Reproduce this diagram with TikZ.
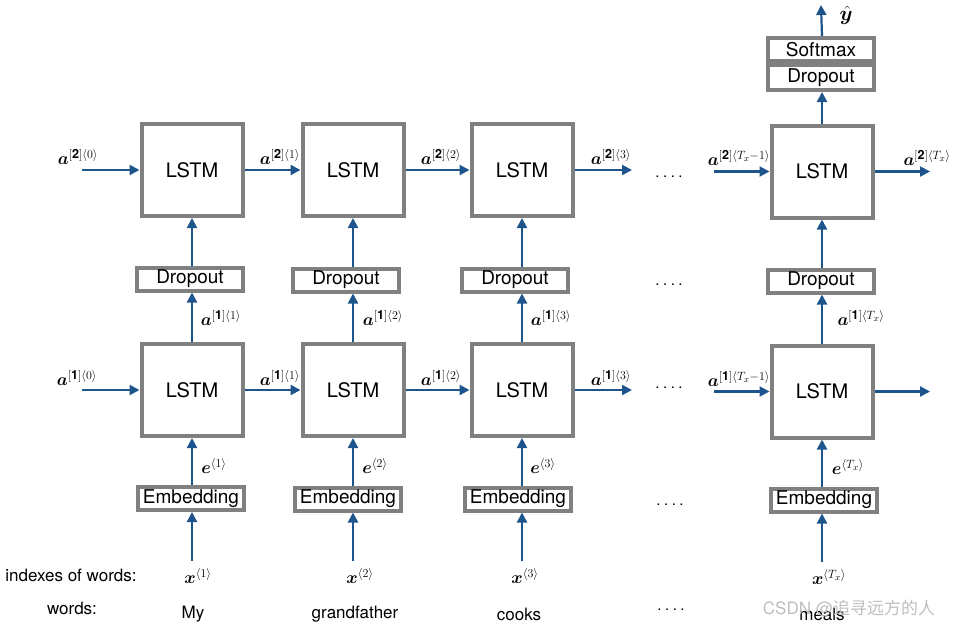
\documentclass[tikz,border=0pt]{standalone}
\usepackage{fontspec}
\setmainfont{TeX Gyre Heros}
\newfontfamily\cjkfont{Noto Sans CJK SC}
\usepackage{amsmath,bm}
\usetikzlibrary{arrows.meta}
\definecolor{boxgray}{RGB}{128,128,128}
\definecolor{arrblue}{RGB}{30,84,140}
\definecolor{wmgray}{RGB}{190,190,190}
\newcommand{\mydots}{.\hspace{3.5pt}.\hspace{3.5pt}.\hspace{3.5pt}.}
\begin{document}
\begin{tikzpicture}[x=1pt,y=-1pt,
  lstm/.style={draw=boxgray, line width=4pt, minimum width=101pt, minimum height=92pt, inner sep=0pt, font=\fontsize{20}{24}\selectfont},
  layerbox/.style={draw=boxgray, line width=4pt, minimum width=106pt, minimum height=23pt, inner sep=0pt, font=\fontsize{19}{22}\selectfont},
  arr/.style={draw=arrblue, line width=2.2pt, -{Triangle[length=10pt,width=10pt]}},
  mlab/.style={font=\fontsize{18}{20}\selectfont, inner sep=0pt},
  txt/.style={font=\fontsize{17}{20}\selectfont, inner sep=0pt},
  dots/.style={font=\fontsize{15}{18}\selectfont, inner sep=0pt},
]
\useasboundingbox (0,0) rectangle (960,630);

% LSTM layer 2
\node[lstm] (L21) at (192,170) {LSTM};
\node[lstm] (L22) at (353,170) {LSTM};
\node[lstm] (L23) at (522,170) {LSTM};
\node[lstm] (L24) at (822,171.5) {LSTM};
% LSTM layer 1
\node[lstm] (L11) at (192,390) {LSTM};
\node[lstm] (L12) at (353,390) {LSTM};
\node[lstm] (L13) at (522,390) {LSTM};
\node[lstm] (L14) at (822,391.5) {LSTM};
% Dropouts
\node[layerbox] (D1) at (190,279) {Dropout};
\node[layerbox] (D2) at (346,280) {Dropout};
\node[layerbox] (D3) at (515,280) {Dropout};
\node[layerbox] (D4) at (821,281) {Dropout};
% Embeddings
\node[layerbox] (E1) at (191,498.5) {Embedding};
\node[layerbox] (E2) at (348,499) {Embedding};
\node[layerbox] (E3) at (518,499) {Embedding};
\node[layerbox] (E4) at (824,500) {Embedding};
% top stack
\node[layerbox, minimum height=23pt] (SM) at (821,49.5) {Softmax};
\node[layerbox, minimum height=25pt] (DT) at (821,77.5) {Dropout};

% free ends
\coordinate (i2) at (82,170);
\coordinate (i1) at (82,390);
\coordinate (o23) at (632,170);
\coordinate (o13) at (632,390);
\coordinate (i24) at (714,171.5);
\coordinate (i14) at (714,391.5);
\coordinate (o24) at (930,171.5);
\coordinate (o14) at (930,391.5);
\coordinate (yh) at (821,5);
\coordinate (x1) at (192,561);
\coordinate (x2) at (353,561);
\coordinate (x3) at (522,561);
\coordinate (x4) at (822,562);

% horizontal arrows layer 2
\draw[arr] (i2) -- (L21.west);
\draw[arr] (L21.east) -- (L22.west);
\draw[arr] (L22.east) -- (L23.west);
\draw[arr] (L23.east) -- (o23);
\draw[arr] (i24) -- (L24.west);
\draw[arr] (L24.east) -- (o24);
% horizontal arrows layer 1
\draw[arr] (i1) -- (L11.west);
\draw[arr] (L11.east) -- (L12.west);
\draw[arr] (L12.east) -- (L13.west);
\draw[arr] (L13.east) -- (o13);
\draw[arr] (i14) -- (L14.west);
\draw[arr] (L14.east) -- (o14);

% vertical arrows
\foreach \i in {1,2,3,4}{
  \draw[arr] (L1\i.north) -- (L1\i.north |- D\i.south);
  \draw[arr] (L1\i.north |- D\i.north) -- (L2\i.south);
  \draw[arr] (L1\i.south |- E\i.north) -- (L1\i.south);
  \draw[arr] (x\i) -- (x\i |- E\i.south);
}
\draw[arr] (L24.north) -- (L24.north |- DT.south);
\draw[arr] (L24.north |- SM.north) -- (yh);

% labels layer 2
\node[mlab] at (78,157) {$\bm{a}^{[\mathbf{2}]\langle 0\rangle}$};
\node[mlab] at (280,157) {$\bm{a}^{[\mathbf{2}]\langle 1\rangle}$};
\node[mlab] at (441,157) {$\bm{a}^{[\mathbf{2}]\langle 2\rangle}$};
\node[mlab] at (611,157) {$\bm{a}^{[\mathbf{2}]\langle 3\rangle}$};
\node[mlab] at (739,158) {$\bm{a}^{[\mathbf{2}]\langle T_x-1\rangle}$};
\node[mlab] at (927,158) {$\bm{a}^{[\mathbf{2}]\langle T_x\rangle}$};
% labels layer 1
\node[mlab] at (77,378) {$\bm{a}^{[\mathbf{1}]\langle 0\rangle}$};
\node[mlab] at (280,378) {$\bm{a}^{[\mathbf{1}]\langle 1\rangle}$};
\node[mlab] at (441,378) {$\bm{a}^{[\mathbf{1}]\langle 2\rangle}$};
\node[mlab] at (611,378) {$\bm{a}^{[\mathbf{1}]\langle 3\rangle}$};
\node[mlab] at (739,379) {$\bm{a}^{[\mathbf{1}]\langle T_x-1\rangle}$};
% vertical labels
\node[mlab] at (221,318) {$\bm{a}^{[\mathbf{1}]\langle 1\rangle}$};
\node[mlab] at (383,318) {$\bm{a}^{[\mathbf{1}]\langle 2\rangle}$};
\node[mlab] at (551,318) {$\bm{a}^{[\mathbf{1}]\langle 3\rangle}$};
\node[mlab] at (861,318) {$\bm{a}^{[\mathbf{1}]\langle T_x\rangle}$};
\node[mlab] at (214,466) {$\bm{e}^{\langle 1\rangle}$};
\node[mlab] at (375,466) {$\bm{e}^{\langle 2\rangle}$};
\node[mlab] at (543,466) {$\bm{e}^{\langle 3\rangle}$};
\node[mlab] at (848,467) {$\bm{e}^{\langle T_x\rangle}$};
\node[mlab] at (198,576) {$\bm{x}^{\langle 1\rangle}$};
\node[mlab] at (360,576) {$\bm{x}^{\langle 2\rangle}$};
\node[mlab] at (525,576) {$\bm{x}^{\langle 3\rangle}$};
\node[mlab] at (829,577) {$\bm{x}^{\langle T_x\rangle}$};
\node[mlab, font=\fontsize{20}{22}\selectfont] at (846,15) {$\bm{\hat{y}}$};

% dots
\node[dots] at (669,177) {\mydots};
\node[dots] at (669,285) {\mydots};
\node[dots] at (669,388) {\mydots};
\node[dots] at (670,505) {\mydots};
\node[dots] at (671,610) {\mydots};

% words
\node[txt] at (71,575) {indexes of words:};
\node[txt] at (72,608) {words:};
\node[txt] at (193,614) {My};
\node[txt] at (355,614) {grandfather};
\node[txt] at (519,614) {cooks};
\node[txt] at (822,614) {meals};
\node[font=\fontsize{17}{20}\selectfont, text=wmgray, inner sep=0pt] at (849,609) {CSDN @{\cjkfont 追寻远方的人}};
\end{tikzpicture}
\end{document}
